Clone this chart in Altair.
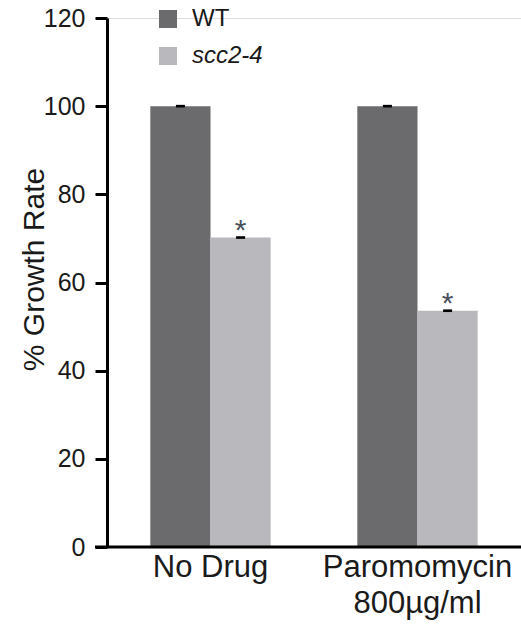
import altair as alt
import pandas as pd

conditions = ["No Drug", "Paromomycin|800µg/ml"]
genotypes = ["WT", "scc2-4"]
wt_values = [100.0, 100.0]
scc_values = [70.2, 53.6]
wt_err = [0.3, 0.3]
scc_err = [0.3, 0.3]
stars = ["", "*"]  # per genotype: significance marker
colors = ["#6b6b6d", "#b9b9bd"]
y_ticks = [0, 20, 40, 60, 80, 100, 120]

rows = []
for i, c in enumerate(conditions):
    rows.append({"cond": c, "geno": "WT", "val": wt_values[i], "err": wt_err[i], "star": stars[0]})
    rows.append({"cond": c, "geno": "scc2-4", "val": scc_values[i], "err": scc_err[i], "star": stars[1]})
df = pd.DataFrame(rows)
df["lo"] = df["val"] - df["err"]
df["hi"] = df["val"] + df["err"]

W, H = 414, 529
FONT = "Liberation Sans"

x_enc = alt.X("cond:N", sort=conditions,
              scale=alt.Scale(paddingInner=0, paddingOuter=0),
              axis=alt.Axis(title=None, labelAngle=0, labelFontSize=31, labelFont=FONT,
                            labelColor="#1a1a1a", domain=False, ticks=False, labelPadding=5,
                            labelLineHeight=36, labelLimit=400, labelOverlap=False,
                            labelExpr="split(datum.label, '|')"))
xo_enc = alt.XOffset("geno:N", sort=genotypes,
                     scale=alt.Scale(paddingInner=0, paddingOuter=0.72))
y_scale = alt.Scale(domain=[0, 120], nice=False, zero=True)

base = alt.Chart(df)

bars = base.mark_bar().encode(
    x=x_enc,
    xOffset=xo_enc,
    y=alt.Y("val:Q", scale=y_scale,
            axis=alt.Axis(values=y_ticks, title="% Growth Rate", titleFontSize=30,
                          titleFont=FONT, titleFontWeight="normal", titleColor="#1a1a1a",
                          titleAngle=-90, titleAlign="center", titleBaseline="alphabetic",
                          titleX=-64, titleY=251,
                          labelFontSize=25, labelFont=FONT, labelColor="#1a1a1a",
                          tickSize=12, tickWidth=3, tickColor="#000", domainWidth=3,
                          domainColor="#000", labelPadding=10, grid=False)),
    color=alt.Color("geno:N", sort=genotypes,
                    scale=alt.Scale(domain=genotypes, range=colors), legend=None),
)

errs = base.mark_rule(color="black", strokeWidth=9).encode(
    x=alt.X("cond:N", sort=conditions),
    xOffset=xo_enc,
    y=alt.Y("lo:Q", scale=y_scale),
    y2="hi:Q",
)

star_txt = base.mark_text(fontSize=30, font=FONT, color="#4a4f5c", baseline="alphabetic", dy=2).encode(
    x=alt.X("cond:N", sort=conditions),
    xOffset=xo_enc,
    y=alt.Y("val:Q", scale=y_scale),
    text="star:N",
)

xaxis_line = alt.Chart(pd.DataFrame({"z": [0]})).mark_rule(color="black", strokeWidth=3).encode(
    y=alt.Y("z:Q", scale=y_scale),
    x=alt.value(-12),
    x2=alt.value(W),
)

legend_layers = []
for i, g in enumerate(genotypes):
    ldf = pd.DataFrame({"label": [g]})
    ypos = 1 + i * 37
    sq = alt.Chart(ldf).mark_square(size=324, opacity=1, color=colors[i]).encode(
        x=alt.value(61), y=alt.value(ypos))
    tx = alt.Chart(ldf).mark_text(align="left", baseline="middle", fontSize=24, font=FONT,
                                  color="#1a1a1a",
                                  fontStyle="italic" if g == "scc2-4" else "normal").encode(
        x=alt.value(85), y=alt.value(ypos), text="label:N")
    legend_layers += [sq, tx]

chart = alt.layer(bars, errs, star_txt, xaxis_line, *legend_layers).properties(
    width=W, height=H,
    padding={"left": 107, "top": 18, "right": 0, "bottom": 77},
    autosize=alt.AutoSizeParams(type="none"),
).configure_view(stroke=None).configure(background="white")

chart.save("out.html", embed_options={"renderer": "svg", "actions": False})
